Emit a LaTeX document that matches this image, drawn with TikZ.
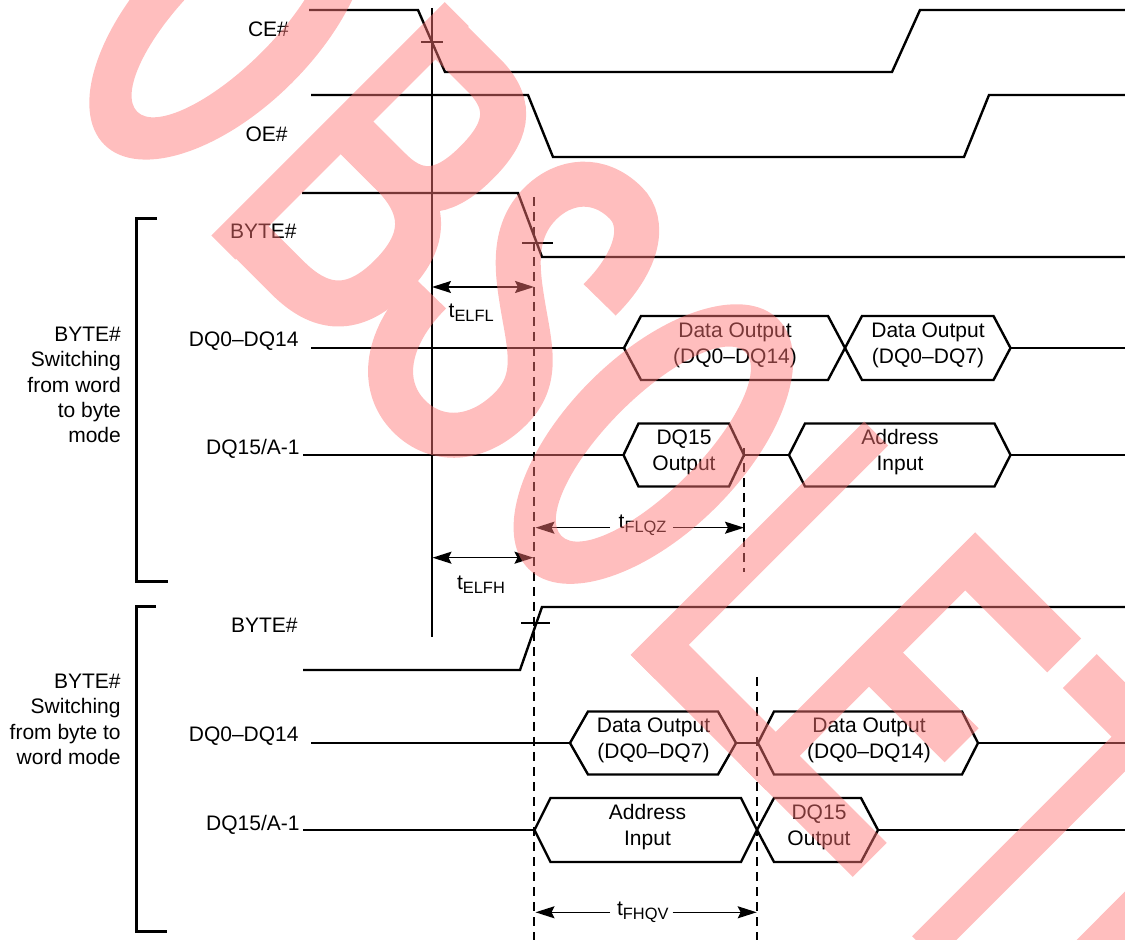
\documentclass[tikz,border=0pt]{standalone}
\usepackage{fontspec}
\setmainfont{Liberation Sans}
\usetikzlibrary{arrows.meta}
\definecolor{wmred}{RGB}{255,117,117}
\newcommand{\tsub}[1]{t\raisebox{-2pt}{\fontsize{8.2pt}{9pt}\selectfont #1}}
\newcommand{\hexbus}[8]{%
  \draw[bus] (#2,#4) -- ({#2+#6},{#4-#5}) -- ({#3-#6},{#4-#5}) -- (#3,#4) -- ({#3-#6},{#4+#5}) -- ({#2+#6},{#4+#5}) -- cycle;
  \node[hlbl] (#1) at (#7,{#4-3}) {#8};}
\begin{document}
\begin{tikzpicture}[x=0.5pt,y=-0.5pt,
  wave/.style={line width=1.2pt, line join=miter},
  bus/.style={line width=1.2pt, line join=miter},
  tickmark/.style={line width=0.6pt},
  vline/.style={line width=0.8pt},
  dline/.style={line width=0.9pt, dash pattern=on 4.5pt off 3pt},
  brk/.style={line width=1.5pt},
  arr/.style={line width=0.8pt, -{Stealth[length=9.5pt,width=6pt,inset=1.5pt]}},
  darr/.style={line width=0.8pt, {Stealth[length=9.5pt,width=6pt,inset=1.5pt]}-{Stealth[length=9.5pt,width=6pt,inset=1.5pt]}},
  lbl/.style={inner sep=0pt, font=\fontsize{10.5pt}{12.6pt}\selectfont},
  blbl/.style={inner sep=0pt, align=right, anchor=east, font=\fontsize{10.5pt}{12.65pt}\selectfont},
  hlbl/.style={inner sep=0pt, align=center, font=\fontsize{10.5pt}{13pt}\selectfont},
  tlbl/.style={inner sep=0pt, anchor=base west, font=\fontsize{10.5pt}{12.6pt}\selectfont}]
\useasboundingbox (0,0) rectangle (1125,940);

% signal labels
\node[lbl, anchor=base east] (lce) at (289.3,36.7) {CE\#};
\node[lbl, anchor=base east] (loe) at (288,141.7) {OE\#};
\node[lbl, anchor=base east] (lb1) at (297,239) {BYTE\#};
\node[lbl, anchor=base east] (ldqa1) at (299,346.7) {DQ0\textendash DQ14};
\node[lbl, anchor=base east] (ldqb1) at (300,455) {DQ15/A-1};
\node[lbl, anchor=base east] (lb2) at (298,633) {BYTE\#};
\node[lbl, anchor=base east] (ldqa2) at (299,741.7) {DQ0\textendash DQ14};
\node[lbl, anchor=base east] (ldqb2) at (300,830) {DQ15/A-1};

% group labels and brackets
\node[blbl] (g1) at (121.2,384.9) {BYTE\#\\Switching\\from word\\to byte\\mode};
\node[blbl] (g2) at (121,719.5) {BYTE\#\\Switching\\from byte to\\word mode};
\draw[brk] (157,219) -- (136,219) -- (136,582) -- (168,582);
\draw[brk] (156,607) -- (136,607) -- (136,931) -- (167,931);

% waveforms
\draw[wave] (309,10) -- (418,10) -- (445,72) -- (892,72) -- (920,10) -- (1125,10);
\draw[wave] (311,95) -- (528,95) -- (553,157) -- (964,157) -- (989,95) -- (1125,95);
\draw[wave] (302,193) -- (518,193) -- (542,257) -- (1125,257);
\draw[wave] (303,670) -- (520,670) -- (542,607) -- (1125,607);
\draw[tickmark] (421,42) -- (443,42);
\draw[tickmark] (522,243) -- (553,243);
\draw[tickmark] (521,623) -- (550,623);

% bus rows
\draw[wave] (311,348) -- (624,348);
\hexbus{hA1}{624}{845}{348}{32}{17}{735}{Data Output\\(DQ0\textendash DQ14)}
\hexbus{hA2}{845}{1010.5}{348}{32}{17}{928}{Data Output\\(DQ0\textendash DQ7)}
\draw[wave] (1010.5,348) -- (1125,348);

\draw[wave] (303,455) -- (623.5,455);
\hexbus{hB1}{623.5}{744}{455}{31.5}{15}{684}{DQ15\\Output}
\draw[wave] (744,455) -- (789,455);
\hexbus{hB2}{789}{1010.5}{455}{31.5}{16}{900}{Address\\Input}
\draw[wave] (1010.5,455) -- (1125,455);

\draw[wave] (311,743) -- (570,743);
\hexbus{hC1}{570}{736}{743}{31.5}{18}{653.5}{Data Output\\(DQ0\textendash DQ7)}
\draw[wave] (736,743) -- (758,743);
\hexbus{hC2}{758}{978}{743}{31.5}{16}{869}{Data Output\\(DQ0\textendash DQ14)}
\draw[wave] (978,743) -- (1125,743);

\draw[wave] (303,830) -- (534.5,830);
\hexbus{hD1}{534.5}{757}{830}{32}{16}{647.5}{Address\\Input}
\hexbus{hD2}{757}{878}{830}{32}{17}{819}{DQ15\\Output}
\draw[wave] (878,830) -- (1125,830);

% reference lines
\draw[vline] (432,8) -- (432,637);
\draw[dline] (534,197) -- (534,940);
\draw[dline] (744,448) -- (744,572);
\draw[dline] (756.7,677) -- (756.7,940);

% timing arrows
\coordinate (el1) at (432,287); \coordinate (el2) at (534,287);
\draw[darr] (el1) -- (el2);
\node[tlbl] (telfl) at (448.3,317.3) {\tsub{ELFL}};
\coordinate (eh1) at (432.5,557.7); \coordinate (eh2) at (533.5,557.7);
\draw[darr] (eh1) -- (eh2);
\node[tlbl] (telfh) at (456.7,589.3) {\tsub{ELFH}};
\node[tlbl] (tflqz) at (618.3,528.3) {\tsub{FLQZ}};
\coordinate (fq1) at (535.5,527.7); \coordinate (fq2) at (744,527.7);
\coordinate (fqa) at (610,527.7); \coordinate (fqb) at (673,527.7);
\draw[arr] (fqa) -- (fq1);
\draw[arr] (fqb) -- (fq2);
\node[tlbl] (tfhqv) at (616.7,915) {\tsub{FHQV}};
\coordinate (fh1) at (535.5,912.3); \coordinate (fh2) at (756.7,912.3);
\coordinate (fha) at (610,912.3); \coordinate (fhb) at (672.7,912.3);
\draw[arr] (fha) -- (fh1);
\draw[arr] (fhb) -- (fh2);

% watermark
\begin{scope}[transparency group, opacity=0.47]
\clip (0,0) rectangle (1125,940);
\begin{scope}[rotate=-45, x=0.5pt, y=0.5pt]
  % O
  \fill[wmred, even odd rule] (176,148) ellipse [x radius=89, y radius=176.5] (176,148) ellipse [x radius=46, y radius=130];
  % B
  \fill[wmred] (316,-17) rectangle (350,313);
  \draw[wmred, line width=23pt, line join=miter] (333,289) -- (395,289) .. controls (440,289) and (452,262) .. (452,222) .. controls (452,182) and (440,155) .. (395,155) -- (333,155);
  \draw[wmred, line width=23pt, line join=miter] (333,155) -- (400,155) .. controls (452,155) and (472,128) .. (472,81) .. controls (472,34) and (452,7) .. (400,7) -- (333,7);
  % S
  \draw[wmred, line width=22.5pt] (636,212) .. controls (636,268) and (614,299) .. (586,299) .. controls (548,299) and (526,272) .. (526,238) .. controls (526,196) and (560,172) .. (588,152) .. controls (622,128) and (650,112) .. (650,72) .. controls (650,25) and (622,-5) .. (584,-5) .. controls (540,-5) and (511,35) .. (511,97);
  % O
  \fill[wmred, even odd rule] (776,148) ellipse [x radius=89, y radius=176.5] (776,148) ellipse [x radius=46, y radius=130];
  % L
  \fill[wmred] (909,-17) rectangle (943,313);
  \fill[wmred] (909,-17) rectangle (1100,31);
  % E
  \fill[wmred] (1066,-17) rectangle (1100,313);
  \fill[wmred] (1066,265) rectangle (1216,313);
  \fill[wmred] (1066,129) rectangle (1207,177);
  \fill[wmred] (1066,-17) rectangle (1223,31);
  % T
  \fill[wmred] (1238,265) rectangle (1410,313);
  \fill[wmred] (1307,-17) rectangle (1341,313);
  % E
  \fill[wmred] (1426,-17) rectangle (1460,313);
  \fill[wmred] (1426,265) rectangle (1576,313);
  \fill[wmred] (1426,129) rectangle (1567,177);
  \fill[wmred] (1426,-17) rectangle (1583,31);
\end{scope}
\end{scope}
\end{tikzpicture}
\end{document}
